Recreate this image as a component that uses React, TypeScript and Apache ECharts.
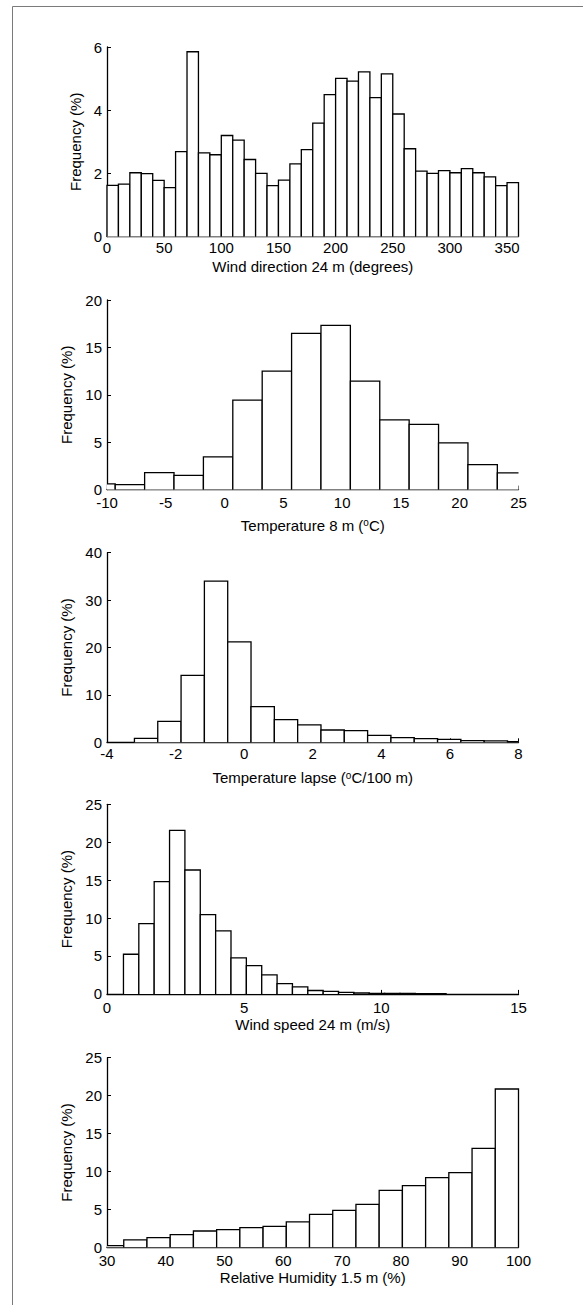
import React, { useEffect, useRef } from "react";
import * as echarts from "echarts";

// ---------- Data ----------
const yAxisTitle = "Frequency (%)";

// Panel 1: wind direction 24 m (degrees), bin width 10
const windDirEdges = [0, 10, 20, 30, 40, 50, 60, 70, 80, 90, 100, 110, 120, 130, 140, 150, 160, 170, 180, 190, 200, 210, 220, 230, 240, 250, 260, 270, 280, 290, 300, 310, 320, 330, 340, 350];
const windDirWidth = 10;
const windDirFreq = [1.62, 1.66, 2.02, 1.99, 1.78, 1.55, 2.69, 5.85, 2.65, 2.59, 3.2, 3.05, 2.44, 2.0, 1.61, 1.79, 2.3, 2.75, 3.59, 4.49, 5.01, 4.92, 5.21, 4.4, 5.15, 3.88, 2.78, 2.07, 2.0, 2.09, 2.02, 2.15, 2.02, 1.89, 1.61, 1.71];

// Panel 2: temperature 8 m, bin width 2.5
const temp8Edges = [-11.8, -9.3, -6.8, -4.3, -1.8, 0.7, 3.2, 5.7, 8.2, 10.7, 13.2, 15.7, 18.2, 20.7, 23.2];
const temp8Width = 2.5;
const temp8Freq = [0.6, 0.53, 1.8, 1.51, 3.45, 9.44, 12.5, 16.48, 17.32, 11.44, 7.36, 6.87, 4.93, 2.64, 1.76];

// Panel 3: temperature lapse, bin width 0.68
const lapseEdges = [-3.2, -2.52, -1.84, -1.16, -0.48, 0.2, 0.88, 1.56, 2.24, 2.92, 3.6, 4.28, 4.96, 5.64, 6.32, 7.0, 7.68];
const lapseWidth = 0.68;
const lapseFreq = [0.84, 4.43, 14.1, 34.0, 21.2, 7.52, 4.78, 3.66, 2.6, 2.46, 1.48, 0.98, 0.77, 0.63, 0.35, 0.3, 0.12];

// Panel 4: wind speed 24 m, bin width 0.56
const windSpeedEdges = [0.6, 1.16, 1.72, 2.28, 2.84, 3.4, 3.96, 4.52, 5.08, 5.64, 6.2, 6.76, 7.32, 7.88, 8.44, 9.0, 9.56, 10.12, 10.68, 11.24, 11.8];
const windSpeedWidth = 0.56;
const windSpeedFreq = [5.23, 9.27, 14.8, 21.57, 16.34, 10.46, 8.3, 4.75, 3.73, 2.5, 1.36, 0.92, 0.45, 0.33, 0.2, 0.12, 0.08, 0.06, 0.05, 0.03, 0.02];

// Panel 5: relative humidity 1.5 m, bin width 3.95
const humidityEdges = [28.9, 32.85, 36.8, 40.75, 44.7, 48.65, 52.6, 56.55, 60.5, 64.45, 68.4, 72.35, 76.3, 80.25, 84.2, 88.15, 92.1, 96.05];
const humidityWidth = 3.95;
const humidityFreq = [0.22, 0.97, 1.27, 1.67, 2.15, 2.33, 2.59, 2.77, 3.34, 4.35, 4.88, 5.67, 7.51, 8.13, 9.18, 9.84, 13.05, 20.87];

// Axis titles
const xTitles = [
  "Wind direction 24 m (degrees)",
  "Temperature 8 m ({sup|o}C)",
  "Temperature lapse ({sup|o}C/100 m)",
  "Wind speed 24 m (m/s)",
  "Relative Humidity 1.5 m (%)",
];

// Axis ranges / tick steps
const xMins = [0, -10, -4, 0, 30];
const xMaxs = [360, 25, 8, 15, 100];
const xSteps = [50, 5, 2, 5, 10];
const yMaxs = [6, 20, 40, 25, 25];
const ySteps = [2, 5, 10, 5, 5];

const panels = [
  { edges: windDirEdges, width: windDirWidth, freq: windDirFreq },
  { edges: temp8Edges, width: temp8Width, freq: temp8Freq },
  { edges: lapseEdges, width: lapseWidth, freq: lapseFreq },
  { edges: windSpeedEdges, width: windSpeedWidth, freq: windSpeedFreq },
  { edges: humidityEdges, width: humidityWidth, freq: humidityFreq },
];

// ---------- Layout ----------
const FONT = "'Liberation Sans', Arial, Helvetica, sans-serif";
const gridTops = [47, 300, 552.7, 804.3, 1057.7];
const gridLeft = 107;
const gridWidth = 411.5;
const gridHeight = 189.6;
const xNameGaps = [22, 28, 28, 23, 23];
const xLabelMargins = [3, 5, 4, 6, 6];

const renderHistBar = (params: any, api: any) => {
  const cs = params.coordSys;
  const lo = api.coord([api.value(0), 0]);
  const hi = api.coord([api.value(1), api.value(2)]);
  const left = cs.x;
  const right = cs.x + cs.width;
  const xl = Math.max(lo[0], left);
  const xr = Math.min(hi[0], right);
  if (xr <= xl) return null;
  const yb = lo[1];
  const yt = hi[1];
  const pts: number[][] = [];
  if (lo[0] >= left - 0.01) pts.push([xl, yb]);
  pts.push([xl, yt], [xr, yt]);
  if (hi[0] <= right + 0.01) pts.push([xr, yb]);
  return {
    type: "group",
    children: [
      { type: "rect", shape: { x: xl, y: yt, width: xr - xl, height: yb - yt }, style: { fill: "#fff" } },
      { type: "polyline", shape: { points: pts }, style: { fill: null, stroke: "#000", lineWidth: 1.3 } },
    ],
  };
};

export default function App() {
  const ref = useRef<HTMLDivElement>(null);
  useEffect(() => {
    if (!ref.current) return;
    const chart = echarts.init(ref.current, undefined, { renderer: "svg" });
    const axisLine = { show: true, onZero: false, lineStyle: { color: "#000", width: 1.3 } };
    const axisTick = { show: true, inside: true, length: 4, lineStyle: { color: "#000", width: 1 } };
    const labelStyle = { color: "#000", fontSize: 15, fontFamily: FONT };

    const option: any = {
      animation: false,
      backgroundColor: "#fff",
      grid: gridTops.map((t) => ({ left: gridLeft, top: t, width: gridWidth, height: gridHeight })),
      xAxis: panels.map((_, i) => ({
        type: "value",
        gridIndex: i,
        min: xMins[i],
        max: xMaxs[i],
        interval: xSteps[i],
        axisLine,
        axisTick,
        splitLine: { show: false },
        axisLabel: { ...labelStyle, margin: xLabelMargins[i] },
        name: xTitles[i],
        nameLocation: "middle",
        nameGap: xNameGaps[i],
        nameTextStyle: {
          ...labelStyle,
          rich: {
            sup: { fontSize: 10, fontFamily: FONT, color: "#000", verticalAlign: "top", lineHeight: 10 },
          },
        },
      })),
      yAxis: panels.map((_, i) => ({
        type: "value",
        gridIndex: i,
        min: 0,
        max: yMaxs[i],
        interval: ySteps[i],
        axisLine,
        axisTick,
        splitLine: { show: false },
        axisLabel: { ...labelStyle, margin: 5 },
        name: yAxisTitle,
        nameLocation: "middle",
        nameGap: 20,
        nameTextStyle: { ...labelStyle },
      })),
      series: panels.map((p, i) => ({
        type: "custom",
        xAxisIndex: i,
        yAxisIndex: i,
        renderItem: renderHistBar,
        encode: { x: [0, 1], y: 2 },
        data: p.edges.map((e, k) => [e, e + p.width, p.freq[k]]),
      })),
      graphic: [
        {
          type: "rect",
          shape: { x: 12.5, y: 6.5, width: 620, height: 1320 },
          style: { fill: null, stroke: "#7a7a7a", lineWidth: 1 },
          silent: true,
          z: -1,
        },
      ],
    };
    chart.setOption(option);
    return () => chart.dispose();
  }, []);
  return (
    <div
      ref={ref}
      style={{ position: "absolute", left: 0, top: 0, width: 583, height: 1305 }}
    />
  );
}
